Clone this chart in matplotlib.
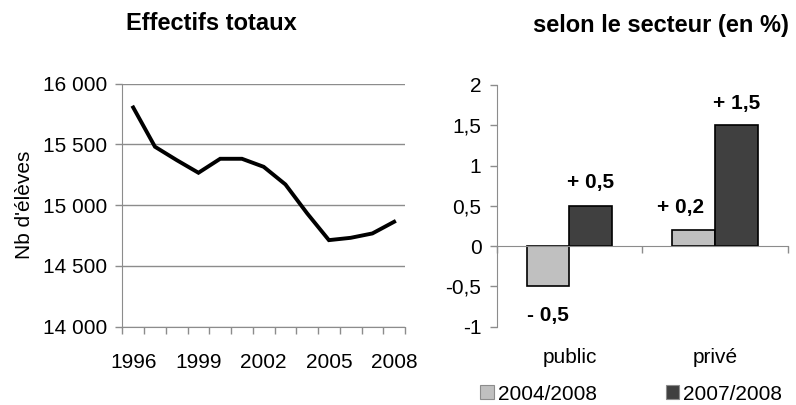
import matplotlib
matplotlib.use("Agg")
import matplotlib.pyplot as plt
from matplotlib.patches import Patch
import numpy as np

plt.rcParams['font.family'] = ['Liberation Sans', 'DejaVu Sans']

# Line chart data
years = [1996, 1997, 1998, 1999, 2000, 2001, 2002, 2003, 2004, 2005, 2006, 2007, 2008]
effectifs = [15803, 15480, 15370, 15266, 15381, 15381, 15315, 15170, 14932, 14712, 14731, 14767, 14863]
year_labels = ['1996', '1999', '2002', '2005', '2008']
y_ticks_left = [14000, 14500, 15000, 15500, 16000]
y_tick_labels_left = ['14 000', '14 500', '15 000', '15 500', '16 000']

# Bar chart data
secteurs = ['public', 'privé']
series_names = ['2004/2008', '2007/2008']
val_2004_2008 = [-0.5, 0.2]
val_2007_2008 = [0.5, 1.5]
bar_labels_2004 = ['- 0,5', '+ 0,2']
bar_labels_2007 = ['+ 0,5', '+ 1,5']
y_ticks_right = [-1, -0.5, 0, 0.5, 1, 1.5, 2]
y_tick_labels_right = ['-1', '-0,5', '0', '0,5', '1', '1,5', '2']

FS = 15
FT = 17
GRAY = '#8c8c8c'

fig = plt.figure(figsize=(7.96, 4.05), dpi=100)

# ---- Left: line chart
ax1 = fig.add_axes([0.1537, 0.1933, 0.3551, 0.6005])
x = np.arange(len(years))
ax1.plot(x, effectifs, color='black', lw=2.8, solid_joinstyle='miter')
ax1.set_xlim(-0.5, len(years) - 0.5)
ax1.set_ylim(14000, 16000)
ax1.set_yticks(y_ticks_left)
ax1.set_yticklabels(y_tick_labels_left, fontsize=FS)
lab_pos = [years.index(int(y)) for y in year_labels]
ax1.set_xticks(lab_pos)
ax1.set_xticklabels(year_labels, fontsize=FS)
ax1.set_xticks(np.arange(-0.5, len(years)), minor=True)
ax1.tick_params(axis='x', which='major', length=0, pad=19)
ax1.tick_params(axis='x', which='minor', length=5, color=GRAY, width=1)
ax1.tick_params(axis='y', length=5, color=GRAY, width=1, pad=6)
ax1.grid(axis='y', color=GRAY, lw=1)
ax1.set_axisbelow(True)
for s in ['top', 'right']:
    ax1.spines[s].set_visible(False)
for s in ['left', 'bottom']:
    ax1.spines[s].set_color(GRAY)
ax1.set_ylabel("Nb d'élèves", fontsize=FS, labelpad=6)
fig.text(0.265, 0.943, 'Effectifs totaux', fontsize=FT, fontweight='bold',
         ha='center', va='center')

# ---- Right: bar chart
ax2 = fig.add_axes([0.624, 0.1933, 0.3656, 0.597])
ax2.spines['bottom'].set_position(('data', 0))
for s in ['top', 'right']:
    ax2.spines[s].set_visible(False)
ax2.spines['left'].set_color(GRAY)
ax2.spines['bottom'].set_color(GRAY)
xc = np.arange(len(secteurs))
w = 0.293
ax2.bar(xc - w / 2, val_2004_2008, w, color='#c0c0c0', edgecolor='black', lw=1.2)
ax2.bar(xc + w / 2, val_2007_2008, w, color='#404040', edgecolor='black', lw=1.2)
ax2.set_xlim(-0.5, len(secteurs) - 0.5)
ax2.set_ylim(-1, 2)
ax2.set_yticks(y_ticks_right)
ax2.set_yticklabels(y_tick_labels_right, fontsize=FS)
ax2.tick_params(axis='y', length=5, color=GRAY, width=1, pad=6, labelsize=FS)
ax2.set_xticks(xc)
ax2.set_xticklabels(secteurs, fontsize=FS)
ax2.set_xticks([-0.5, 0.5, 1.5], minor=True)
ax2.tick_params(axis='x', which='major', length=0, pad=73, labelsize=FS)
ax2.tick_params(axis='x', which='minor', length=5, color=GRAY, width=1)

# value labels
lab_y_2004 = [-0.86, 0.48]
lab_dx_2004 = [0.0, -0.09]
for i, t in enumerate(bar_labels_2004):
    ax2.text(xc[i] - w / 2 + lab_dx_2004[i], lab_y_2004[i], t, fontsize=FS,
             fontweight='bold', ha='center', va='center')
lab_y_2007 = [0.79, 1.77]
for i, t in enumerate(bar_labels_2007):
    ax2.text(xc[i] + w / 2, lab_y_2007[i], t, fontsize=FS,
             fontweight='bold', ha='center', va='center')

fig.text(0.830, 0.938, 'selon le secteur (en %)', fontsize=FT, fontweight='bold',
         ha='center', va='center')

handles = [Patch(facecolor='#c0c0c0', edgecolor=GRAY, lw=0.8),
           Patch(facecolor='#404040', edgecolor=GRAY, lw=0.8)]
fig.legend(handles, series_names, loc='center', bbox_to_anchor=(0.793, 0.027),
           ncol=2, frameon=False, fontsize=FS, handlelength=0.65, handleheight=0.65,
           handletextpad=0.2, columnspacing=3.3, borderpad=0, borderaxespad=0)

fig.savefig('out.png', dpi=100)
